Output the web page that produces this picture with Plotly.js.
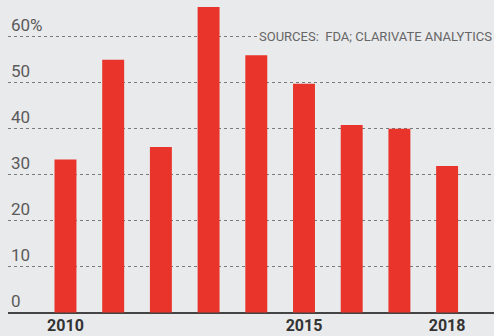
<!DOCTYPE html>
<html>
<head>
<meta charset="utf-8">
<script src="https://cdn.plot.ly/plotly-3.0.1.min.js"></script>
<style>html,body{margin:0;padding:0;background:#e9eaec;}#chart{width:494px;height:336px;}</style>
</head>
<body>
<div id="chart"></div>
<script>
const years = [2010, 2011, 2012, 2013, 2014, 2015, 2016, 2017, 2018];
const shares = [33.3, 55.0, 36.0, 66.5, 56.0, 49.8, 40.8, 40.0, 31.9];
const yTickVals = [0, 10, 20, 30, 40, 50, 60];
const yTickText = ['0', '10', '20', '30', '40', '50', '60%'];
const xTickVals = [2010, 2015, 2018];
const xTickText = ['2010', '2015', '2018'];
const sourceText = 'SOURCES:  FDA; CLARIVATE ANALYTICS';

const trace = {
  type: 'bar',
  x: years,
  y: shares,
  marker: {color: '#e8342a'},
  hoverinfo: 'skip'
};

const layout = {
  width: 494, height: 336,
  margin: {l: 8, r: 0, t: 0, b: 22},
  paper_bgcolor: '#e9eaec',
  plot_bgcolor: '#e9eaec',
  bargap: 0.54,
  showlegend: false,
  xaxis: {
    range: [2008.795, 2018.983],
    tickvals: xTickVals, ticktext: xTickText,
    showgrid: false, zeroline: false, showline: false,
    ticks: '',
    tickfont: {family: 'Roboto, sans-serif', size: 16, color: '#333', weight: 'bold'},
    fixedrange: true
  },
  yaxis: {
    range: [-0.3, 68],
    tickvals: yTickVals, ticktext: yTickText,
    ticklabelposition: 'inside top',
    tickfont: {family: 'Roboto, sans-serif', size: 17, color: '#5a5a5a'},
    showgrid: true, gridcolor: '#7a7a7a', gridwidth: 1, griddash: 'dot',
    zeroline: true, zerolinecolor: '#444', zerolinewidth: 2,
    showline: false, ticks: '',
    fixedrange: true
  },
  annotations: [{
    text: sourceText,
    xref: 'paper', yref: 'y',
    x: 0.512, y: 60,
    xanchor: 'left', yanchor: 'middle',
    showarrow: false,
    bgcolor: '#e9eaec',
    font: {family: 'Roboto, sans-serif', size: 13, color: '#666'}
  }]
};

Plotly.newPlot('chart', [trace], layout, {displayModeBar: false, staticPlot: true});
</script>
</body>
</html>
